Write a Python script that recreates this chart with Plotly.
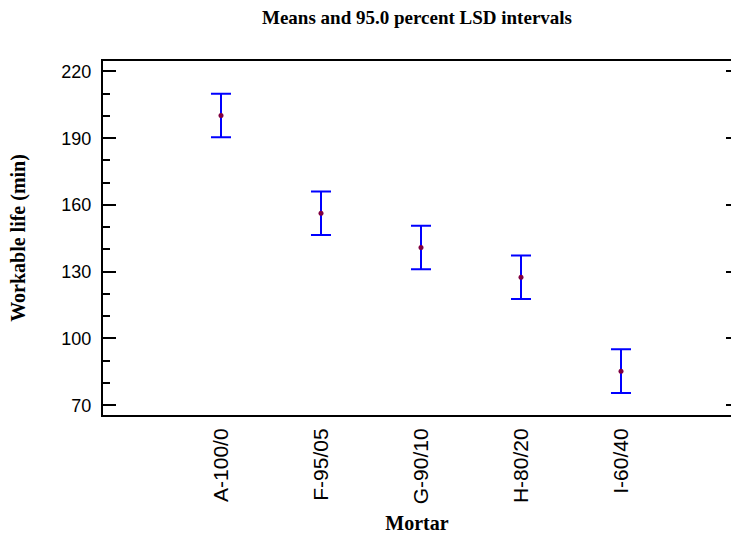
import plotly.graph_objects as go

# Data
mortars = ["A-100/0", "F-95/05", "G-90/10", "H-80/20", "I-60/40"]
means = [200.2, 156.3, 140.9, 127.5, 85.3]
lsd_half = [9.8, 9.8, 9.8, 9.8, 9.8]

y_major = [70, 100, 130, 160, 190, 220]
y_range = [65.6, 224.7]
x_range = [-1.18, 5.1]

fig = go.Figure()
fig.add_trace(go.Scatter(
    x=mortars, y=means, mode="markers",
    marker=dict(color="#800040", size=5),
    error_y=dict(type="data", array=lsd_half, visible=True,
                 color="#0000FF", thickness=2, width=10),
    showlegend=False, hoverinfo="x+y",
))
# invisible trace on right axis for the right-hand tick marks
fig.add_trace(go.Scatter(x=mortars, y=means, yaxis="y2", mode="markers",
                         marker=dict(opacity=0), showlegend=False, hoverinfo="skip"))

fig.update_layout(
    width=731, height=535,
    margin=dict(l=103, r=0, t=61, b=120),
    paper_bgcolor="white", plot_bgcolor="white",
    font=dict(family="Arial, Liberation Sans", color="black"),
    title=dict(text="<b>Means and 95.0 percent LSD intervals</b>",
               font=dict(family="Times New Roman, Liberation Serif", size=19, color="black"),
               x=0.5, xanchor="center", xref="paper", y=1 - 17/535, yanchor="middle", yref="container"),
    xaxis=dict(
        type="category", range=x_range, showline=True, linecolor="black", linewidth=2,
        mirror=True, ticks="", showgrid=False, zeroline=False, tickangle=-90,
        tickfont=dict(size=21, family="Arial, Liberation Sans"),
        ticklabelstandoff=3,
        title=dict(text="<b>Mortar</b>", standoff=13,
                   font=dict(family="Times New Roman, Liberation Serif", size=20)),
    ),
    yaxis=dict(
        range=y_range, tickvals=y_major, showline=True, linecolor="black", linewidth=2,
        mirror=False, ticks="inside", ticklen=13, tickwidth=2, tickcolor="black",
        showgrid=False, zeroline=False,
        tickfont=dict(size=18, family="Arial, Liberation Sans"),
        ticklabelstandoff=6,
        minor=dict(dtick=10, tick0=70, ticks="inside", ticklen=7, tickwidth=2, tickcolor="black", showgrid=False),
        title=dict(text="<b>Workable life (min)</b>", standoff=30,
                   font=dict(family="Times New Roman, Liberation Serif", size=20)),
    ),
    yaxis2=dict(
        range=y_range, tickvals=y_major, overlaying="y", side="right", anchor="x",
        showline=False, ticks="inside", ticklen=5, tickwidth=2, tickcolor="black",
        showticklabels=False, showgrid=False, zeroline=False,
    ),
)

fig.write_html("out.html")
